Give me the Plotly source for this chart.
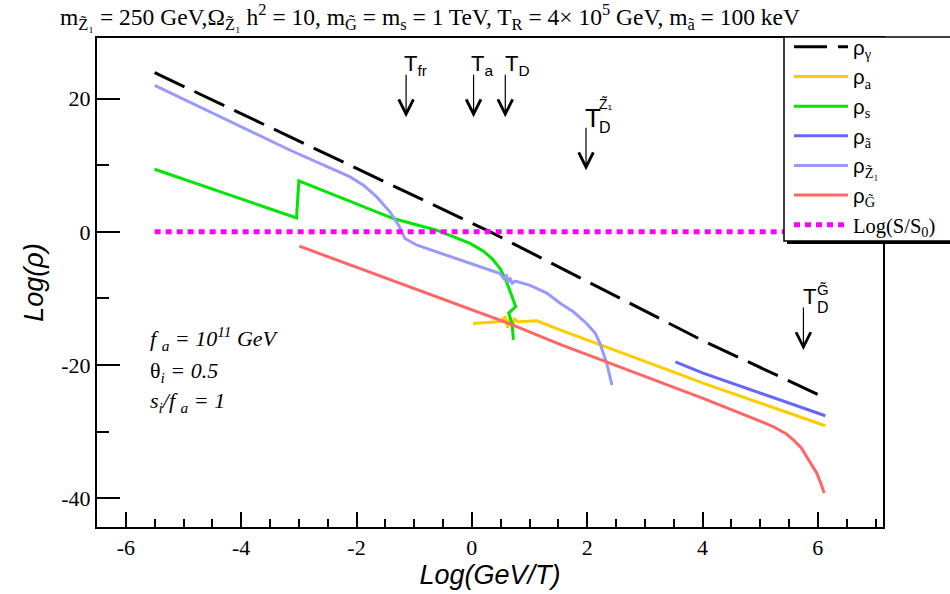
import plotly.graph_objects as go

# ---- energy densities vs Log(GeV/T) ----
gamma_x = [-5.5, 0.32, 4.0, 6.05]
gamma_y = [23.9, 0.0, -16.3, -24.6]

axion_x = [0.02, 0.50, 0.58, 0.62, 0.66, 0.70, 0.74, 0.80, 1.13, 1.53, 3.55, 4.01, 6.13]
axion_y = [-13.75, -13.45, -12.7, -14.4, -12.9, -14.3, -13.1, -13.5, -13.35, -14.7, -21.2, -22.7, -29.1]

saxion_x = [-5.5, -3.04, -3.0, -1.36, -0.61, -0.03, 0.2, 0.35, 0.49, 0.58, 0.65, 0.72, 0.76, 0.64, 0.70, 0.72]
saxion_y = [9.4, 2.1, 7.65, 2.0, 0.25, -1.74, -2.9, -4.0, -5.5, -7.0, -8.6, -10.2, -11.2, -12.2, -13.8, -16.2]

axino_x = [3.53, 4.01, 6.13]
axino_y = [-19.5, -21.2, -27.6]

neutralino_x = [-5.5, -3.15, -2.11, -1.88, -1.65, -1.42, -1.27, -1.16, -0.95, 0.49, 0.55, 0.60, 0.63, 0.66,
                0.70, 0.75, 1.0, 1.3, 1.53, 1.76, 1.99, 2.14, 2.22, 2.34, 2.43]
neutralino_y = [22.0, 12.25, 8.25, 7.0, 5.25, 3.0, 1.0, -1.0, -2.0, -6.25, -7.0, -6.6, -7.6, -6.9,
                -7.7, -7.4, -8.0, -9.2, -10.7, -12.0, -13.75, -15.2, -16.7, -19.75, -23.0]

gravitino_x = [-2.99, 0.66, 1.53, 3.55, 4.01, 5.0, 5.23, 5.45, 5.58, 5.71, 5.81, 5.9, 5.98, 6.05, 6.11]
gravitino_y = [-2.15, -13.8, -16.9, -23.5, -25.0, -28.4, -29.25, -30.3, -31.25, -32.4, -33.75, -35.0, -36.2, -37.7, -39.2]

entropy_x = [-5.5, 7.2]
entropy_y = [0.0, 0.0]

x_ticks = [-6, -4, -2, 0, 2, 4, 6]
x_ticktext = ["-6", "-4", "-2", "0", "2", "4", "6"]
y_ticks = [-40, -20, 0, 20]
y_ticktext = ["-40", "-20", "0", "20"]

# ---- page geometry (pixels) ----
W, H = 950, 594
FL, FR, FT, FB = 97, 883, 38, 527


def pxx(x):
    return (x - FL) / (FR - FL)


def pxy(y):
    return (FB - y) / (FB - FT)


SERIF = "Liberation Serif"
SANS = "Liberation Sans"


def rho(sub):
    return f'<span style="font-family:{SANS}">ρ</span><sub>{sub}</sub>'


fig = go.Figure()

series = [
    (gamma_x, gamma_y, rho("γ"), "black", "33px,11px", 3),
    (axion_x, axion_y, rho("a"), "#FFCC00", "solid", 3),
    (saxion_x, saxion_y, rho("s"), "#00E600", "solid", 3),
    (axino_x, axino_y, rho("ã"), "#6666FF", "solid", 3),
    (neutralino_x, neutralino_y, rho("Z̃₁"), "#9999FF", "solid", 3),
    (gravitino_x, gravitino_y, rho("G̃"), "#FF6666", "solid", 3),
    (entropy_x, entropy_y, "Log(S/S<sub>0</sub>)", "#FF00FF", "6px,5px", 5),
]
for i, (xs, ys, name, col, dash, w) in enumerate(series):
    fig.add_trace(go.Scatter(
        x=xs, y=ys, mode="lines", name=name, legendgroup=f"g{i}",
        line=dict(color=col, width=w, dash=dash),
    ))

annotations = []

# temperature markers (arrows pointing down)
arrow_tips = [(-1.14, 17.2), (0.03, 17.2), (0.58, 17.2), (1.98, 9.25), (5.75, -17.75)]
for ax_, ay_ in arrow_tips:
    annotations.append(dict(
        x=ax_, y=ay_, xref="x", yref="y", text="", showarrow=True,
        ax=0, ay=-44, arrowhead=5, arrowsize=2.4, arrowwidth=1.2, arrowcolor="black",
    ))


def label(text, x, y, size, family=SANS, xanchor="left", yanchor="middle"):
    annotations.append(dict(
        x=pxx(x), y=pxy(y), xref="paper", yref="paper", text=text, showarrow=False,
        xanchor=xanchor, yanchor=yanchor, font=dict(family=family, size=size, color="black"),
    ))


label("T<sub>fr</sub>", 402, 65, 22)
label("T<sub>a</sub>", 469, 65, 22)
label("T<sub>D</sub>", 503, 65, 22)
label("T", 583, 118, 26)
label("Z̃₁", 597, 104, 14)
label("D", 597, 127, 16)
label("T", 801, 296, 22)
label("G̃", 815, 289, 15)
label("D", 815, 307, 16)

# model parameters
label("<i>f <sub>a</sub> = 10<sup>11</sup> GeV</i>", 148, 338, 22, family=SERIF)
label("θ<i><sub>i</sub> = 0.5</i>", 148, 372, 22, family=SERIF)
label("<i>s<sub>i</sub>/f <sub>a</sub> = 1</i>", 148, 402, 22, family=SERIF)

# title
label("m<sub>Z̃₁</sub> = 250 GeV,Ω<sub>Z̃₁</sub> h<sup>2</sup> = 10, m<sub>G̃</sub> = m<sub>s</sub> = 1 TeV, "
      "T<sub>R</sub> = 4× 10<sup>5</sup> GeV, m<sub>ã</sub> = 100 keV",
      430, 17, 23.5, family=SERIF, xanchor="center")

shapes = [
    # legend frame with drop shadow
    dict(type="rect", xref="paper", yref="paper", x0=pxx(787), x1=pxx(960), y0=pxy(244), y1=pxy(238),
         fillcolor="black", line=dict(width=0), layer="above"),
    dict(type="rect", xref="paper", yref="paper", x0=pxx(784), x1=pxx(960), y0=pxy(241), y1=pxy(37),
         fillcolor="white", line=dict(color="black", width=1.5), layer="above"),
]

axis_common = dict(
    showgrid=False, zeroline=False, showline=True, linecolor="black", linewidth=2, mirror=True,
    ticks="inside", tickcolor="black", tickwidth=1.5,
    tickfont=dict(family=SERIF, size=22, color="black"),
)

fig.update_layout(
    width=W, height=H,
    margin=dict(l=FL, r=W - FR, t=FT, b=H - FB, autoexpand=False),
    paper_bgcolor="white", plot_bgcolor="white",
    xaxis=dict(
        range=[-6.5, 7.13], tickvals=x_ticks, ticktext=x_ticktext, ticklen=15,
        minor=dict(dtick=0.5, ticks="inside", ticklen=8, tickcolor="black", tickwidth=1.5),
        title=dict(text="<i>Log(GeV/T)</i>", font=dict(family=SANS, size=27, color="black"), standoff=2),
        **axis_common,
    ),
    yaxis=dict(
        range=[-44.3, 29.1], tickvals=y_ticks, ticktext=y_ticktext, ticklen=23,
        minor=dict(dtick=10, ticks="inside", ticklen=12, tickcolor="black", tickwidth=1.5),
        title=dict(text="<i>Log(ρ)</i>", font=dict(family=SANS, size=27, color="black"), standoff=10),
        **axis_common,
    ),
    showlegend=True,
    legend=dict(
        x=pxx(789), y=pxy(27), xanchor="left", yanchor="top",
        bgcolor="rgba(0,0,0,0)", borderwidth=0, itemwidth=54, tracegroupgap=0,
        font=dict(family=SERIF, size=20.5, color="black"),
    ),
    annotations=annotations,
    shapes=shapes,
)

fig.write_html("out.html")
